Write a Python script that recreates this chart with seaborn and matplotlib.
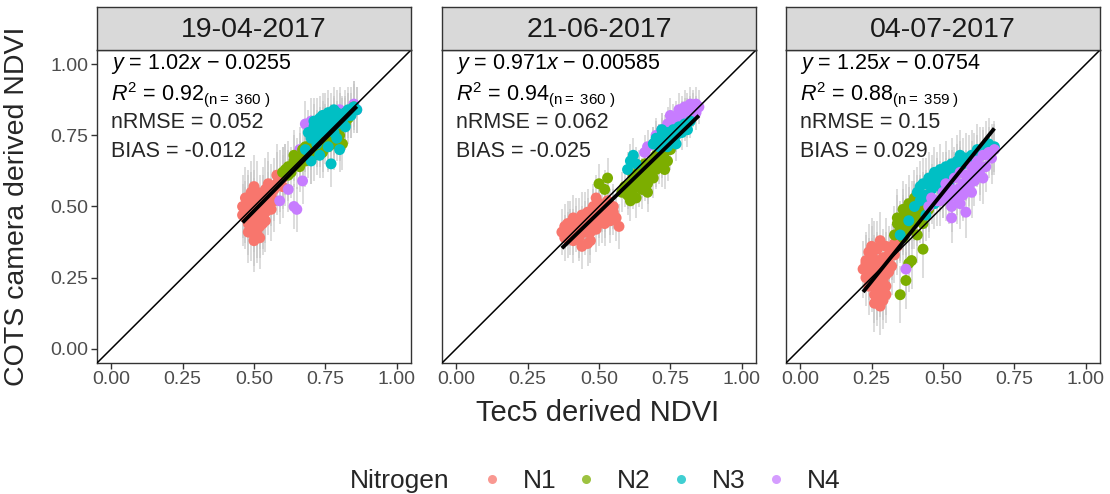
import numpy as np
import pandas as pd
import matplotlib
matplotlib.use("Agg")
import matplotlib.pyplot as plt
import seaborn as sns
from matplotlib.lines import Line2D

# ---------------- data ----------------
dates = ["19-04-2017", "21-06-2017", "04-07-2017"]
groups = ["N1", "N2", "N3", "N4"]
palette = ["#F8766D", "#7CAE00", "#00BFC4", "#C77CFF"]

# Panel 1 : 19-04-2017
p1_n1_x = [0.46, 0.47, 0.47, 0.48, 0.48, 0.49, 0.49, 0.50, 0.50, 0.50, 0.51, 0.51, 0.52, 0.52, 0.53, 0.53,
           0.54, 0.54, 0.55, 0.55, 0.56, 0.56, 0.57, 0.58, 0.59, 0.60, 0.61, 0.49, 0.51, 0.53, 0.52, 0.50,
           0.47, 0.48, 0.49, 0.50, 0.51, 0.52, 0.53, 0.54, 0.55, 0.57, 0.58, 0.60, 0.46, 0.48, 0.50]
p1_n1_y = [0.50, 0.46, 0.53, 0.44, 0.50, 0.42, 0.48, 0.45, 0.52, 0.40, 0.47, 0.55, 0.43, 0.50, 0.46, 0.53,
           0.48, 0.56, 0.51, 0.58, 0.54, 0.49, 0.56, 0.58, 0.59, 0.60, 0.61, 0.55, 0.41, 0.44, 0.39, 0.57,
           0.48, 0.52, 0.51, 0.49, 0.43, 0.46, 0.50, 0.45, 0.55, 0.52, 0.61, 0.57, 0.47, 0.41, 0.38]
p1_n2_x = [0.60, 0.61, 0.62, 0.63, 0.64, 0.65, 0.66, 0.67, 0.68, 0.69, 0.70, 0.71, 0.72, 0.73, 0.74, 0.75,
           0.76, 0.77, 0.78, 0.80, 0.82, 0.83, 0.84, 0.85, 0.79, 0.81, 0.62, 0.66, 0.70, 0.74, 0.78, 0.64,
           0.68]
p1_n2_y = [0.62, 0.63, 0.64, 0.62, 0.66, 0.65, 0.67, 0.70, 0.66, 0.69, 0.72, 0.68, 0.70, 0.73, 0.69, 0.74,
           0.71, 0.76, 0.73, 0.75, 0.79, 0.81, 0.83, 0.85, 0.77, 0.72, 0.61, 0.64, 0.67, 0.71, 0.72, 0.68,
           0.71]
p1_n3_x = [0.69, 0.70, 0.71, 0.72, 0.72, 0.73, 0.74, 0.74, 0.75, 0.76, 0.76, 0.77, 0.78, 0.78, 0.79, 0.80,
           0.81, 0.82, 0.83, 0.84, 0.85, 0.86, 0.70, 0.73, 0.77, 0.80, 0.68, 0.72, 0.76, 0.79, 0.71, 0.73,
           0.75, 0.77, 0.79, 0.81, 0.83, 0.74, 0.78, 0.82]
p1_n3_y = [0.76, 0.74, 0.78, 0.75, 0.80, 0.77, 0.79, 0.82, 0.76, 0.80, 0.83, 0.78, 0.81, 0.84, 0.79, 0.82,
           0.80, 0.83, 0.84, 0.82, 0.85, 0.84, 0.66, 0.68, 0.65, 0.70, 0.70, 0.72, 0.71, 0.74, 0.80, 0.81,
           0.78, 0.82, 0.83, 0.81, 0.82, 0.77, 0.76, 0.78]
p1_n4_x = [0.59, 0.64, 0.65, 0.67, 0.66, 0.68, 0.70, 0.72, 0.75, 0.78, 0.80, 0.82, 0.85, 0.86, 0.74, 0.77,
           0.62, 0.71]
p1_n4_y = [0.52, 0.50, 0.49, 0.59, 0.70, 0.79, 0.80, 0.76, 0.82, 0.80, 0.84, 0.81, 0.86, 0.84, 0.74, 0.78,
           0.56, 0.73]

# Panel 2 : 21-06-2017
p2_n1_x = [0.37, 0.38, 0.39, 0.40, 0.41, 0.41, 0.42, 0.43, 0.43, 0.44, 0.45, 0.45, 0.46, 0.46, 0.47, 0.48,
           0.48, 0.49, 0.50, 0.50, 0.51, 0.52, 0.53, 0.54, 0.55, 0.56, 0.57, 0.44, 0.47, 0.40, 0.49, 0.52,
           0.39, 0.41, 0.42, 0.44, 0.46, 0.48, 0.50, 0.52, 0.54, 0.43, 0.45, 0.47, 0.38, 0.55, 0.51]
p2_n1_y = [0.41, 0.43, 0.40, 0.44, 0.38, 0.46, 0.42, 0.39, 0.45, 0.47, 0.41, 0.44, 0.48, 0.37, 0.43, 0.46,
           0.50, 0.42, 0.47, 0.51, 0.45, 0.49, 0.52, 0.48, 0.50, 0.46, 0.43, 0.36, 0.38, 0.41, 0.53, 0.44,
           0.44, 0.41, 0.45, 0.42, 0.45, 0.48, 0.44, 0.47, 0.45, 0.40, 0.47, 0.41, 0.39, 0.48, 0.49]
p2_n2_x = [0.50, 0.52, 0.53, 0.58, 0.59, 0.60, 0.61, 0.62, 0.62, 0.63, 0.64, 0.64, 0.65, 0.66, 0.66, 0.67,
           0.68, 0.68, 0.69, 0.70, 0.70, 0.71, 0.72, 0.73, 0.74, 0.75, 0.63, 0.67, 0.61, 0.71, 0.60, 0.62,
           0.64, 0.66, 0.68, 0.70, 0.72, 0.65, 0.69, 0.73]
p2_n2_y = [0.58, 0.56, 0.60, 0.55, 0.57, 0.54, 0.58, 0.56, 0.61, 0.59, 0.57, 0.63, 0.60, 0.62, 0.65, 0.58,
           0.64, 0.61, 0.66, 0.63, 0.68, 0.65, 0.67, 0.69, 0.66, 0.70, 0.53, 0.55, 0.52, 0.72, 0.56, 0.59,
           0.61, 0.59, 0.62, 0.64, 0.64, 0.56, 0.60, 0.63]
p2_n3_x = [0.60, 0.61, 0.62, 0.63, 0.69, 0.70, 0.71, 0.72, 0.73, 0.74, 0.75, 0.76, 0.77, 0.78, 0.79, 0.80,
           0.81, 0.82, 0.74, 0.77, 0.72]
p2_n3_y = [0.63, 0.66, 0.68, 0.65, 0.72, 0.74, 0.71, 0.75, 0.73, 0.76, 0.74, 0.77, 0.75, 0.78, 0.76, 0.79,
           0.77, 0.80, 0.71, 0.72, 0.77]
p2_n4_x = [0.66, 0.67, 0.69, 0.70, 0.71, 0.72, 0.73, 0.74, 0.75, 0.76, 0.77, 0.78, 0.79, 0.80, 0.81, 0.82,
           0.83, 0.84, 0.85, 0.78, 0.81, 0.75, 0.77, 0.79, 0.81, 0.83, 0.80, 0.82, 0.84]
p2_n4_y = [0.69, 0.71, 0.72, 0.75, 0.73, 0.77, 0.76, 0.79, 0.78, 0.80, 0.81, 0.80, 0.83, 0.82, 0.84, 0.83,
           0.85, 0.86, 0.85, 0.84, 0.80, 0.82, 0.79, 0.81, 0.82, 0.84, 0.85, 0.86, 0.83]

# Panel 3 : 04-07-2017
p3_n1_x = [0.22, 0.23, 0.23, 0.24, 0.24, 0.25, 0.25, 0.26, 0.26, 0.27, 0.27, 0.28, 0.28, 0.29, 0.29, 0.30,
           0.30, 0.31, 0.32, 0.33, 0.34, 0.35, 0.36, 0.26, 0.28, 0.30, 0.25, 0.27, 0.31, 0.24, 0.23, 0.24,
           0.25, 0.26, 0.27, 0.28, 0.29, 0.30, 0.31, 0.32, 0.33, 0.27, 0.29, 0.25, 0.30, 0.34, 0.26, 0.28]
p3_n1_y = [0.28, 0.25, 0.31, 0.22, 0.29, 0.26, 0.33, 0.19, 0.30, 0.24, 0.35, 0.21, 0.28, 0.32, 0.17, 0.26,
           0.36, 0.30, 0.34, 0.37, 0.39, 0.40, 0.43, 0.16, 0.15, 0.22, 0.36, 0.20, 0.27, 0.34, 0.30, 0.27,
           0.29, 0.27, 0.31, 0.25, 0.24, 0.31, 0.33, 0.29, 0.33, 0.18, 0.20, 0.23, 0.19, 0.36, 0.35, 0.38]
p3_n2_x = [0.33, 0.34, 0.35, 0.36, 0.36, 0.37, 0.38, 0.38, 0.39, 0.40, 0.40, 0.41, 0.42, 0.43, 0.44, 0.45,
           0.37, 0.35, 0.39, 0.43, 0.38, 0.41, 0.34, 0.36, 0.37, 0.39, 0.40, 0.42, 0.41, 0.38, 0.36, 0.43]
p3_n2_y = [0.40, 0.44, 0.42, 0.46, 0.49, 0.43, 0.47, 0.51, 0.45, 0.48, 0.53, 0.46, 0.50, 0.47, 0.52, 0.49,
           0.24, 0.19, 0.31, 0.35, 0.30, 0.40, 0.46, 0.44, 0.48, 0.49, 0.45, 0.47, 0.51, 0.42, 0.39, 0.44]
p3_n3_x = [0.35, 0.38, 0.40, 0.41, 0.42, 0.43, 0.44, 0.45, 0.46, 0.47, 0.48, 0.49, 0.50, 0.51, 0.52, 0.53,
           0.54, 0.55, 0.56, 0.58, 0.60, 0.62, 0.64, 0.66, 0.68, 0.47, 0.50, 0.44, 0.42, 0.44, 0.46, 0.48,
           0.49, 0.51, 0.53, 0.55, 0.57, 0.59, 0.61, 0.63, 0.65, 0.67, 0.43, 0.52, 0.56]
p3_n3_y = [0.40, 0.45, 0.50, 0.55, 0.52, 0.58, 0.54, 0.60, 0.56, 0.62, 0.58, 0.63, 0.60, 0.64, 0.61, 0.65,
           0.62, 0.66, 0.64, 0.67, 0.68, 0.70, 0.69, 0.72, 0.71, 0.51, 0.55, 0.47, 0.57, 0.58, 0.59, 0.60,
           0.57, 0.60, 0.61, 0.63, 0.65, 0.66, 0.67, 0.69, 0.71, 0.70, 0.53, 0.58, 0.68]
p3_n4_x = [0.37, 0.45, 0.46, 0.48, 0.50, 0.51, 0.52, 0.53, 0.54, 0.55, 0.56, 0.57, 0.58, 0.59, 0.60, 0.61,
           0.62, 0.63, 0.64, 0.66, 0.67, 0.68, 0.53, 0.57, 0.49, 0.51, 0.53, 0.55, 0.57, 0.59, 0.61, 0.63,
           0.65, 0.56, 0.60, 0.64, 0.58]
p3_n4_y = [0.28, 0.50, 0.53, 0.52, 0.55, 0.58, 0.53, 0.46, 0.60, 0.56, 0.62, 0.58, 0.61, 0.59, 0.64, 0.62,
           0.66, 0.63, 0.68, 0.69, 0.67, 0.70, 0.50, 0.54, 0.52, 0.54, 0.56, 0.53, 0.55, 0.57, 0.59, 0.61,
           0.64, 0.51, 0.55, 0.60, 0.48]

# error bar half-widths per panel and nitrogen level
err_half = [[0.11, 0.09, 0.08, 0.08],
            [0.08, 0.07, 0.06, 0.06],
            [0.10, 0.10, 0.09, 0.09]]

# drawing order of the groups per panel
draw_order = [["N1", "N4", "N2", "N3"],
              ["N1", "N2", "N4", "N3"],
              ["N1", "N2", "N3", "N4"]]

slopes = [1.02, 0.971, 1.25]
intercepts = [-0.0255, -0.00585, -0.0754]
eq_slope = ["1.02", "0.971", "1.25"]
eq_icpt = ["0.0255", "0.00585", "0.0754"]
r2_text = ["0.92", "0.94", "0.88"]
n_text = ["360", "360", "359"]
nrmse_text = ["0.052", "0.062", "0.15"]
bias_text = ["-0.012", "-0.025", "0.029"]

ticks = [0.00, 0.25, 0.50, 0.75, 1.00]
tick_labels = ["0.00", "0.25", "0.50", "0.75", "1.00"]

# ---------------- build table ----------------
raw = {
    (0, "N1"): (p1_n1_x, p1_n1_y), (0, "N2"): (p1_n2_x, p1_n2_y),
    (0, "N3"): (p1_n3_x, p1_n3_y), (0, "N4"): (p1_n4_x, p1_n4_y),
    (1, "N1"): (p2_n1_x, p2_n1_y), (1, "N2"): (p2_n2_x, p2_n2_y),
    (1, "N3"): (p2_n3_x, p2_n3_y), (1, "N4"): (p2_n4_x, p2_n4_y),
    (2, "N1"): (p3_n1_x, p3_n1_y), (2, "N2"): (p3_n2_x, p3_n2_y),
    (2, "N3"): (p3_n3_x, p3_n3_y), (2, "N4"): (p3_n4_x, p3_n4_y),
}
rows = []
for p in range(3):
    for g in draw_order[p]:
        xs, ys = raw[(p, g)]
        e = err_half[p][groups.index(g)]
        for xv, yv in zip(xs, ys):
            rows.append({"Date": dates[p], "Nitrogen": g, "Tec5": xv, "COTS": yv, "err": e})
df = pd.DataFrame(rows)

# ---------------- style ----------------
sns.set_theme(style="white")
plt.rcParams["font.family"] = ["Liberation Sans", "DejaVu Sans"]
plt.rcParams["mathtext.fontset"] = "custom"
plt.rcParams["mathtext.rm"] = "Liberation Sans"
plt.rcParams["mathtext.it"] = "Liberation Sans:italic"
plt.rcParams["mathtext.bf"] = "Liberation Sans:bold"

W, H = 1110, 494
fig = plt.figure(figsize=(W / 100, H / 100), dpi=100)
fig.patch.set_facecolor("white")

lefts = [97, 442, 786]
pw, top_px, bot_px, strip_top = 314, 50, 363, 7
frame_col = "#333333"

for p in range(3):
    L = lefts[p]
    ax = fig.add_axes([L / W, (H - bot_px) / H, pw / W, (bot_px - top_px) / H])
    sub = df[df["Date"] == dates[p]]
    # error bars
    ax.vlines(sub["Tec5"], sub["COTS"] - sub["err"], sub["COTS"] + sub["err"],
              color="#C4C4C4", alpha=0.75, lw=1.1, zorder=1)
    sns.scatterplot(data=sub, x="Tec5", y="COTS", hue="Nitrogen", hue_order=groups,
                    palette=palette, s=62, linewidth=0, alpha=1.0, ax=ax,
                    legend=False, zorder=2)
    # 1:1 line
    ax.plot([-0.05, 1.05], [-0.05, 1.05], color="black", lw=1.1, zorder=3)
    # regression line
    xr = np.array([sub["Tec5"].min(), sub["Tec5"].max()])
    ax.plot(xr, slopes[p] * xr + intercepts[p], color="black", lw=2.8,
            solid_capstyle="butt", zorder=4)
    ax.set_xlim(-0.05, 1.05)
    ax.set_ylim(-0.05, 1.05)
    ax.set_xticks(ticks)
    ax.set_xticklabels(tick_labels, fontsize=14, color="#4D4D4D")
    if p == 0:
        ax.set_yticks(ticks)
        ax.set_yticklabels(tick_labels, fontsize=14, color="#4D4D4D")
        ax.tick_params(axis="y", length=4, width=1, color=frame_col, left=True, pad=2)
    else:
        ax.set_yticks([])
    ax.tick_params(axis="x", length=4, width=1, color=frame_col, bottom=True, pad=2)
    ax.set_xlabel("")
    ax.set_ylabel("")
    for sp in ax.spines.values():
        sp.set_color(frame_col)
        sp.set_linewidth(1.0)

    # annotations
    tx = 0.0
    fs = 15.5
    ax.text(tx, 1.0, r"$y$ = " + eq_slope[p] + r"$x$ $-$ " + eq_icpt[p],
            fontsize=fs, va="center", ha="left", color="black", zorder=5)
    ax.text(tx, 0.895, r"$R^2$ = " + r2_text[p] + r"$_{(\mathrm{n}=\ " + n_text[p] + r"\ )}$",
            fontsize=fs, va="center", ha="left", color="black", zorder=5)
    ax.text(tx, 0.795, "nRMSE = " + nrmse_text[p], fontsize=fs, va="center", ha="left", zorder=5)
    ax.text(tx, 0.695, "BIAS = " + bias_text[p], fontsize=fs, va="center", ha="left", zorder=5)

    # strip
    sax = fig.add_axes([L / W, (H - top_px) / H, pw / W, (top_px - strip_top) / H])
    sax.set_facecolor("#D9D9D9")
    sax.set_xticks([])
    sax.set_yticks([])
    for sp in sax.spines.values():
        sp.set_color(frame_col)
        sp.set_linewidth(1.0)
    sax.text(0.5, 0.47, dates[p], fontsize=20.5, ha="center", va="center",
             transform=sax.transAxes, color="#1A1A1A")

# axis titles
fig.text(598 / W, 1 - 413 / H, "Tec5 derived NDVI", fontsize=21, ha="center", va="center")
fig.text(17 / W, 1 - 206 / H, "COTS camera derived NDVI", fontsize=20.5, ha="center",
         va="center", rotation=90)

# legend
lfs = 19
fig.text(350 / W, 1 - 481 / H, "Nitrogen", fontsize=lfs, ha="left", va="center")
handles = [Line2D([0], [0], marker="o", linestyle="", markersize=6.5,
                  markerfacecolor=c, markeredgewidth=0, alpha=0.75) for c in palette]
fig.legend(handles, groups, ncol=4, loc="center left", frameon=False,
           bbox_to_anchor=(468 / W, 1 - 481 / H), fontsize=lfs,
           handletextpad=0.67, columnspacing=0.64, handlelength=1.0, borderaxespad=0)

fig.savefig("out.png", dpi=100, facecolor="white")
